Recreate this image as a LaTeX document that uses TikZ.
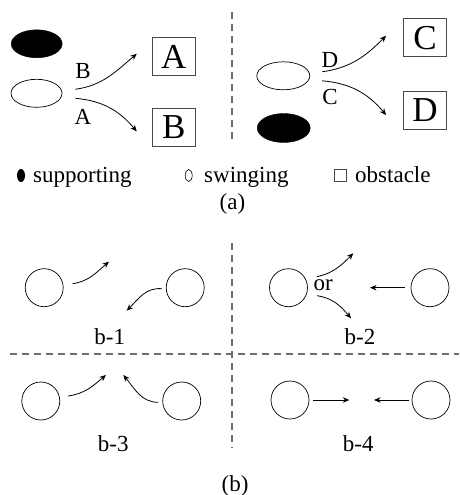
\documentclass[tikz,border=0pt]{standalone}
\usepackage{fontspec}
\setmainfont{Liberation Serif}
\usetikzlibrary{arrows.meta, positioning, shapes.geometric}
\definecolor{cgray}{HTML}{6E6E6E}
\definecolor{cbox}{HTML}{4A4A4A}

\begin{document}
\begin{tikzpicture}[x=1pt,y=1pt,
  foot/.style={ellipse, draw=black, fill=black, inner sep=0pt, minimum width=51pt, minimum height=28pt},
  swing/.style={ellipse, draw=black, line width=0.7pt, inner sep=0pt, minimum width=51pt, minimum height=28pt},
  obst/.style={draw=cbox, line width=0.8pt, inner sep=0pt, minimum width=43pt, minimum height=38pt, font=\fontsize{35}{40}\selectfont},
  legcirc/.style={circle, draw=black, line width=0.7pt, inner sep=0pt, minimum size=38pt},
  lbl/.style={inner sep=0pt, font=\fontsize{23}{26}\selectfont},
  arr/.style={-{Stealth[length=6.5pt,width=5.5pt]}, line width=0.8pt},
  divider/.style={cgray, line width=1.3pt, dash pattern=on 7pt off 5pt}]
  \useasboundingbox (0,0) rectangle (459,-495);

  % (a) left half
  \node[foot] (sA) at (36.7,-43.8) {};
  \node[swing] (wA) at (36.5,-93.3) {};
  \node[obst] (bxA) at (173.7,-56.8) {A};
  \node[obst] (bxB) at (173.7,-127.5) {B};
  \draw[arr] ([xshift=13pt,yshift=4pt]wA.east) to[out=8,in=220] ([xshift=-15pt,yshift=3pt]bxA.west);
  \draw[arr] ([xshift=13pt,yshift=-5pt]wA.east) to[out=-5,in=130] ([xshift=-15pt,yshift=-4pt]bxB.west);
  \node[lbl] (lB) at (83,-70.7) {B};
  \node[lbl] (lA) at (83,-117) {A};

  % (a) right half
  \node[swing, minimum width=53pt] (wB) at (283.3,-75.8) {};
  \node[foot, minimum width=53pt, minimum height=29pt] (sB) at (283.7,-128) {};
  \node[obst] (bxC) at (425,-37.8) {C};
  \node[obst] (bxD) at (425,-110) {D};
  \draw[arr] ([xshift=12pt,yshift=4pt]wB.east) to[out=8,in=225] ([xshift=-17pt,yshift=2pt]bxC.west);
  \draw[arr] ([xshift=12pt,yshift=-5pt]wB.east) to[out=-5,in=130] ([xshift=-17pt,yshift=-5pt]bxD.west);
  \node[lbl] (lD) at (330,-60) {D};
  \node[lbl] (lC) at (330,-96.7) {C};

  % legend
  \node[ellipse, fill=black, inner sep=0pt, minimum width=8pt, minimum height=13pt] (kS) at (21,-175.5) {};
  \node[lbl, anchor=base west] (tS) at (33,-182) {supporting};
  \node[ellipse, draw=black, line width=0.6pt, inner sep=0pt, minimum width=7pt, minimum height=12pt] (kW) at (188.7,-175.5) {};
  \node[lbl, anchor=base west] (tW) at (204,-182) {swinging};
  \node[draw=cbox, line width=0.6pt, inner sep=0pt, minimum size=12pt] (kO) at (340.5,-175.5) {};
  \node[lbl, anchor=base west] (tO) at (355,-182) {obstacle};
  \node[lbl] (capA) at (232.5,-204) {(a)};

  % dividers
  \draw[divider] (232,-12) -- (232,-140);
  \draw[divider] (232,-243) -- (232,-448);
  \draw[divider] (10,-354) -- (459,-354);

  % b-1
  \node[legcirc] (c1L) at (44.2,-287.7) {};
  \node[legcirc] (c1R) at (185.2,-287.7) {};
  \coordinate (t1L) at (109,-261.7);
  \coordinate (t1R) at (126.7,-310.7);
  \draw[arr] ([xshift=9pt,yshift=4pt]c1L.east) to[out=8,in=220] (t1L);
  \draw[arr] ([xshift=-4pt,yshift=-1pt]c1R.west) to[out=175,in=45] (t1R);
  \node[lbl] (n1) at (109.7,-336.7) {b-1};

  % b-2
  \node[legcirc] (c2L) at (288.5,-287.7) {};
  \node[legcirc] (c2R) at (430,-287.7) {};
  \coordinate (t2u) at (353.3,-253.3);
  \coordinate (t2d) at (351,-318.3);
  \coordinate (t2R) at (370,-287.7);
  \draw[arr] ([xshift=9pt,yshift=11pt]c2L.east) to[out=12,in=225] (t2u);
  \draw[arr] ([xshift=9pt,yshift=-8pt]c2L.east) to[out=-8,in=130] (t2d);
  \draw[arr] ([xshift=-6pt]c2R.west) -- (t2R);
  \node[lbl] (or2) at (323.3,-285) {or};
  \node[lbl] (n2) at (360,-336.7) {b-2};

  % b-3
  \node[legcirc] (c3L) at (40.8,-401) {};
  \node[legcirc] (c3R) at (181.7,-401) {};
  \coordinate (t3L) at (106,-375);
  \coordinate (t3R) at (123.3,-375);
  \draw[arr] ([xshift=8pt,yshift=5pt]c3L.east) to[out=8,in=220] (t3L);
  \draw[arr] ([xshift=-4pt,yshift=-1.3pt]c3R.west) to[out=180,in=-50] (t3R);
  \node[lbl] (n3) at (113.3,-444) {b-3};

  % b-4
  \node[legcirc] (c4L) at (290,-400) {};
  \node[legcirc] (c4R) at (431,-400) {};
  \coordinate (t4L) at (349.3,-400);
  \coordinate (t4R) at (374,-400);
  \draw[arr] ([xshift=4pt]c4L.east) -- (t4L);
  \draw[arr] ([xshift=-2.5pt]c4R.west) -- (t4R);
  \node[lbl] (n4) at (358.3,-444) {b-4};

  \node[lbl] (capB) at (235,-486) {(b)};
\end{tikzpicture}
\end{document}
